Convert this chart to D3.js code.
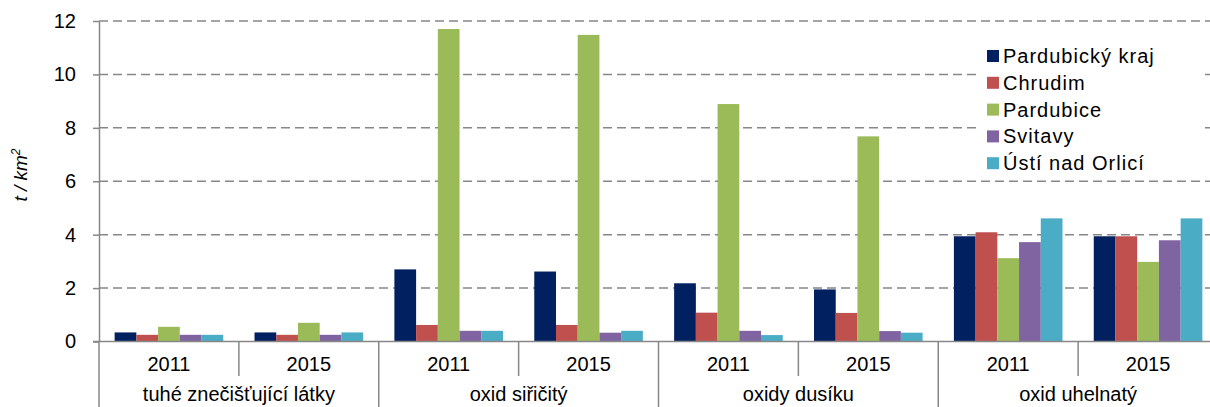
<!DOCTYPE html>
<html>
<head>
<meta charset="utf-8">
<script src="https://cdn.jsdelivr.net/npm/d3@7"></script>
<style>
  html, body { margin: 0; padding: 0; background: #fff; overflow: hidden; }
  text { font-family: "Liberation Sans", Arial, sans-serif; fill: #000; }
</style>
</head>
<body>
<div id="chart"></div>
<script>
// -------------------- Data --------------------
const pollutants = ["tuhé znečišťující látky", "oxid siřičitý", "oxidy dusíku", "oxid uhelnatý"];
const years = ["2011", "2015"];
const regions = ["Pardubický kraj", "Chrudim", "Pardubice", "Svitavy", "Ústí nad Orlicí"];
const colors = ["#002060", "#C0504D", "#9BBB59", "#8064A2", "#4BACC6"];

// values per region, in order pollutant x year
const pardubickyKraj = [0.34, 0.34, 2.70, 2.62, 2.18, 1.95, 3.94, 3.94];
const chrudim        = [0.25, 0.25, 0.62, 0.62, 1.08, 1.07, 4.09, 3.94];
const pardubice      = [0.55, 0.70, 11.70, 11.48, 8.89, 7.68, 3.12, 2.98];
const svitavy        = [0.25, 0.25, 0.40, 0.33, 0.40, 0.39, 3.72, 3.79];
const ustiNadOrlici  = [0.25, 0.34, 0.40, 0.40, 0.24, 0.33, 4.61, 4.61];

const yTicks = [0, 2, 4, 6, 8, 10, 12];

const series = [pardubickyKraj, chrudim, pardubice, svitavy, ustiNadOrlici];
const groups = [];
pollutants.forEach(p => years.forEach(yr => groups.push(p + "|" + yr)));

// -------------------- SVG --------------------
const width = 1210, height = 407;
const svg = d3.select("#chart").append("svg")
  .attr("width", width)
  .attr("height", height);

const x0 = d3.scaleBand().domain(groups).range([99, 1218]).padding(0);
const x1 = d3.scaleBand().domain(regions).range([0, x0.bandwidth()])
  .paddingInner(0).paddingOuter(0.72);
const y = d3.scaleLinear().domain([0, 12]).range([341.5, 21]);

// -------------------- Grid --------------------
svg.append("g")
  .selectAll("line")
  .data(yTicks.filter(t => t > 0))
  .join("line")
  .attr("x1", 99).attr("x2", width)
  .attr("y1", d => y(d)).attr("y2", d => y(d))
  .attr("stroke", "#878787")
  .attr("stroke-width", 1.5)
  .attr("stroke-dasharray", "9,5");

// -------------------- Bars --------------------
const barG = svg.append("g")
  .selectAll("g")
  .data(groups)
  .join("g")
  .attr("transform", d => `translate(${x0(d)},0)`);

barG.selectAll("rect")
  .data((g, gi) => regions.map((r, ri) => ({ r, ri, v: series[ri][gi] })))
  .join("rect")
  .attr("x", d => x1(d.r))
  .attr("width", x1.bandwidth())
  .attr("y", d => y(d.v))
  .attr("height", d => y(0) - y(d.v))
  .attr("fill", d => colors[d.ri]);

// -------------------- Y axis --------------------
const yAxis = svg.append("g")
  .attr("transform", "translate(99,0)")
  .call(d3.axisLeft(y).tickValues(yTicks).tickSize(6).tickPadding(17).tickSizeOuter(0));
yAxis.select(".domain").attr("stroke", "#878787").attr("stroke-width", 1.5);
yAxis.selectAll(".tick line").attr("stroke", "#878787").attr("stroke-width", 1.5);
yAxis.selectAll(".tick text")
  .style("font-size", "20px")
  .style("font-family", "'Liberation Sans', Arial, sans-serif")
  .attr("fill", "#000");

svg.append("text")
  .attr("transform", "translate(27,175) rotate(-90)")
  .attr("text-anchor", "middle")
  .style("font-size", "19px")
  .style("font-style", "italic")
  .html("t / km<tspan dy='-7' font-size='12'>2</tspan>");

// -------------------- X axis --------------------
svg.append("line")
  .attr("x1", 93).attr("x2", width)
  .attr("y1", y(0)).attr("y2", y(0))
  .attr("stroke", "#878787").attr("stroke-width", 1.5);

// year boundaries (short) and pollutant boundaries (long)
const bounds = groups.map((g, i) => ({ x: x0(g), major: i % 2 === 0 }));
svg.append("g")
  .selectAll("line")
  .data(bounds)
  .join("line")
  .attr("x1", d => d.x).attr("x2", d => d.x)
  .attr("y1", y(0))
  .attr("y2", d => d.major ? height : 376)
  .attr("stroke", "#878787")
  .attr("stroke-width", 1.5);

svg.append("g")
  .selectAll("text")
  .data(groups)
  .join("text")
  .attr("x", d => x0(d) + x0.bandwidth() / 2)
  .attr("y", 371)
  .attr("text-anchor", "middle")
  .style("font-size", "20px")
  .text(d => d.split("|")[1]);

svg.append("g")
  .selectAll("text")
  .data(pollutants)
  .join("text")
  .attr("x", p => x0(p + "|" + years[0]) + x0.bandwidth())
  .attr("y", 401)
  .attr("text-anchor", "middle")
  .style("font-size", "20px")
  .text(p => p);

// -------------------- Legend --------------------
const legend = svg.append("g")
  .attr("transform", "translate(987,0)");
legend.append("rect")
  .attr("x", -10).attr("y", 38).attr("width", 228).attr("height", 140)
  .attr("fill", "#fff");
const li = legend.selectAll("g")
  .data(regions)
  .join("g")
  .attr("transform", (d, i) => `translate(0,${56 + i * 26.8})`);
li.append("rect")
  .attr("x", 0).attr("y", -6).attr("width", 12).attr("height", 12)
  .attr("fill", (d, i) => colors[i]);
li.append("text")
  .attr("x", 16)
  .attr("y", 7)
  .style("font-size", "20px")
  .style("letter-spacing", "1px")
  .text(d => d);
</script>
</body>
</html>
